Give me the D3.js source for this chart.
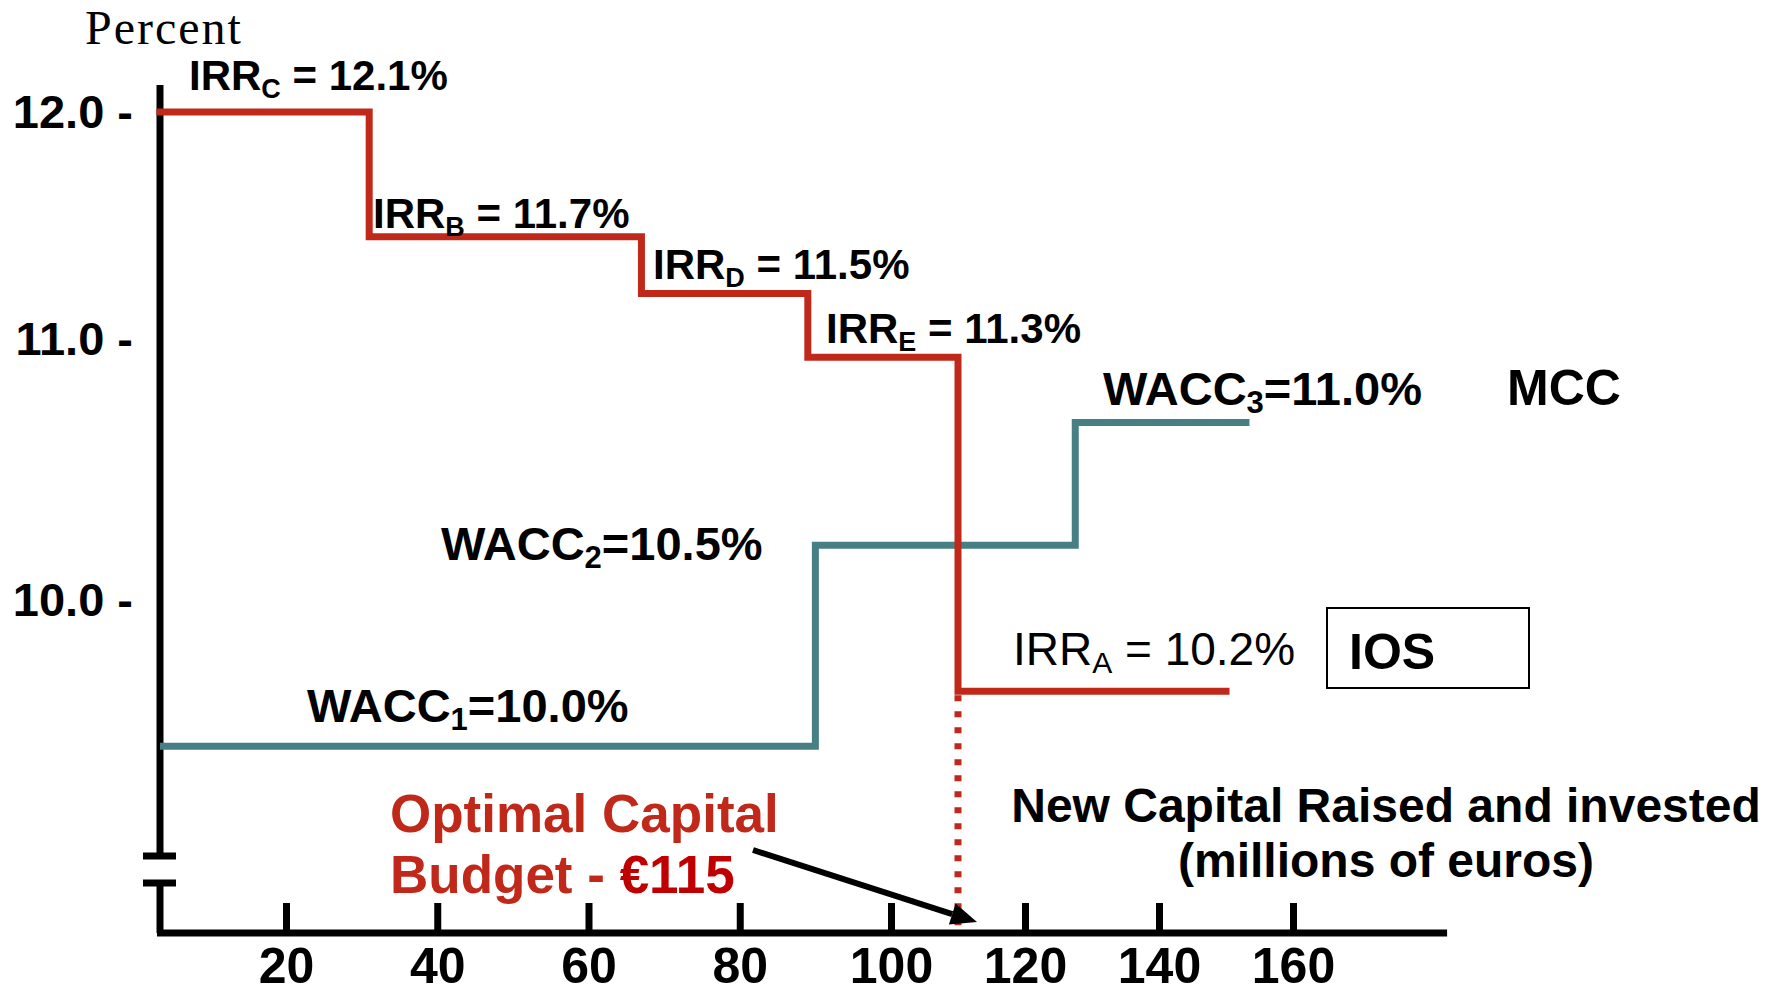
<!DOCTYPE html>
<html>
<head>
<meta charset="utf-8">
<script src="https://cdn.jsdelivr.net/npm/d3@7"></script>
<style>
  body { margin: 0; background: #fff; }
  svg { display: block; font-family: "Liberation Sans", Arial, sans-serif; }
</style>
</head>
<body>
<svg id="chart"></svg>
<script>
// MCC / IOS schema: optimal capital budget

// data
var irrProjects = ["C", "B", "D", "E", "A"];
var irrRates = [12.1, 11.7, 11.5, 11.3, 10.2];          // text in the labels
var irrStepX = [0, 31, 67, 89, 110, 150];               // capital where each step starts (+ end)
var irrStepY = [12.0, 11.45, 11.2, 10.93, 9.65];        // level as drawn

var waccRates = [10.0, 10.5, 11.0];
var waccStepX = [0, 90, 127.5, 153.5];
var waccStepY = [9.44, 10.21, 10.68];

var budget = 110;                                        // where the dotted line is drawn
var budgetText = "€115";

var xTicks = [20, 40, 60, 80, 100, 120, 140, 160];
var yTicks = [10, 11, 12];
var xAxisEnd = 183;

var W = 1773, H = 994;
var RED = "#c0291a", TEAL = "#467f84";

var svg = d3.select("#chart").attr("width", W).attr("height", H);

// the picture is not to scale, so the scales are piecewise
var x = d3.scaleLinear().domain([0, 20, 100, 160]).range([160, 286, 891, 1293]);
var y = d3.scaleLinear().domain([10, 11, 12]).range([600, 339, 112]);

// helper for labels with subscripts: parts = [main, sub, rest]
function richLabel(parts, px, py, size, opts) {
  opts = opts || {};
  var t = svg.append("text")
    .attr("x", px).attr("y", py)
    .attr("font-size", size)
    .attr("font-weight", opts.weight || "bold")
    .attr("fill", opts.fill || "#000");
  var shift = Math.round(size * 0.18);
  t.append("tspan").text(parts[0]);
  t.append("tspan").attr("font-size", Math.round(size * 0.65)).attr("dy", shift).text(parts[1]);
  t.append("tspan").attr("dy", -shift).text(parts[2]);
  return t;
}

// y axis with a break near the bottom
var axisY0 = x(0), xAxisY = 933;
svg.append("path")
  .attr("d", "M" + axisY0 + ",85V856M" + axisY0 + ",883V" + xAxisY)
  .attr("stroke", "#000").attr("stroke-width", 7).attr("fill", "none");
svg.selectAll(".brk").data([856, 883]).enter().append("line")
  .attr("x1", 143).attr("x2", 176)
  .attr("y1", function(d) { return d; }).attr("y2", function(d) { return d; })
  .attr("stroke", "#000").attr("stroke-width", 7);

// y tick labels ("12.0 -")
var yAxis = svg.append("g")
  .attr("transform", "translate(" + axisY0 + ",0)")
  .call(d3.axisLeft(y).tickValues(yTicks).tickSize(0).tickPadding(27)
    .tickFormat(function(d) { return d3.format(".1f")(d) + " -"; }));
yAxis.select(".domain").remove();
yAxis.attr("font-family", null).attr("font-size", null);
yAxis.selectAll("text")
  .attr("font-size", 47).attr("font-weight", "bold")
  .attr("fill", "#000").attr("dy", "0.33em");

// x axis
var xAxis = svg.append("g")
  .attr("transform", "translate(0," + xAxisY + ")")
  .call(d3.axisBottom(x).tickValues(xTicks).tickSizeInner(-30).tickSizeOuter(0));
xAxis.select(".domain").remove();
xAxis.attr("font-family", null).attr("font-size", null);
xAxis.selectAll(".tick line").attr("stroke", "#000").attr("stroke-width", 7);
xAxis.selectAll("text")
  .attr("y", 50).attr("dy", null)
  .attr("font-size", 50).attr("font-weight", "bold")
  .attr("fill", "#000");
svg.append("line")
  .attr("x1", x(0) - 3).attr("x2", x(xAxisEnd))
  .attr("y1", xAxisY).attr("y2", xAxisY)
  .attr("stroke", "#000").attr("stroke-width", 7);

// step lines
var step = d3.line()
  .x(function(d) { return x(d[0]); })
  .y(function(d) { return y(d[1]); })
  .curve(d3.curveStepAfter);

var waccPts = waccStepY.map(function(v, i) { return [waccStepX[i], v]; });
waccPts.push([waccStepX[waccStepX.length - 1], waccStepY[waccStepY.length - 1]]);
svg.append("path").attr("d", step(waccPts))
  .attr("fill", "none").attr("stroke", TEAL).attr("stroke-width", 7);

var irrPts = irrStepY.map(function(v, i) { return [irrStepX[i], v]; });
irrPts.push([irrStepX[irrStepX.length - 1], irrStepY[irrStepY.length - 1]]);
svg.append("path").attr("d", step(irrPts))
  .attr("fill", "none").attr("stroke", RED).attr("stroke-width", 7)
  .attr("stroke-linecap", "square");

// dotted drop to the axis
svg.append("line")
  .attr("x1", x(budget)).attr("x2", x(budget))
  .attr("y1", y(irrStepY[irrStepY.length - 1]) + 4).attr("y2", xAxisY)
  .attr("stroke", RED).attr("stroke-width", 7)
  .attr("stroke-dasharray", "6 10");

// IRR labels
var irrLabelPos = [[189, 90], [373, 228], [653, 279], [826, 343], [1013, 665]];
irrProjects.forEach(function(p, i) {
  var last = i === irrProjects.length - 1;
  richLabel(["IRR", p, " = " + irrRates[i].toFixed(1) + "%"],
    irrLabelPos[i][0], irrLabelPos[i][1], last ? 46 : 42,
    { weight: last ? "normal" : "bold" });
});

// WACC labels
var waccLabelPos = [[307, 722], [441, 560], [1103, 405]];
waccRates.forEach(function(r, i) {
  richLabel(["WACC", String(i + 1), "=" + r.toFixed(1) + "%"],
    waccLabelPos[i][0], waccLabelPos[i][1], 47);
});

svg.append("text").attr("x", 1507).attr("y", 405)
  .attr("font-size", 50).attr("font-weight", "bold").text("MCC");

svg.append("rect").attr("x", 1327).attr("y", 608).attr("width", 202).attr("height", 80)
  .attr("fill", "none").attr("stroke", "#000").attr("stroke-width", 2);
svg.append("text").attr("x", 1349).attr("y", 669)
  .attr("font-size", 50).attr("font-weight", "bold").text("IOS");

// "Percent" title
svg.append("text").attr("x", 85).attr("y", 44)
  .attr("font-family", "Liberation Serif, Times New Roman, serif")
  .attr("font-size", 48).attr("letter-spacing", 2).text("Percent");

// x axis title
svg.append("text").attr("x", 1386).attr("y", 822).attr("text-anchor", "middle")
  .attr("font-size", 48).attr("font-weight", "bold").text("New Capital Raised and invested");
svg.append("text").attr("x", 1386).attr("y", 877).attr("text-anchor", "middle")
  .attr("font-size", 48).attr("font-weight", "bold").text("(millions of euros)");

// optimal budget annotation
svg.append("text").attr("x", 390).attr("y", 832)
  .attr("font-size", 53).attr("font-weight", "bold").attr("fill", RED)
  .text("Optimal Capital");
var bt = svg.append("text").attr("x", 390).attr("y", 893)
  .attr("font-size", 53).attr("font-weight", "bold").attr("fill", RED);
bt.append("tspan").text("Budget - ");
bt.append("tspan").attr("fill", "#c00000").text(budgetText);

// arrow to the budget point
var ax0 = 753, ay0 = 850, ax1 = x(budget) + 19, ay1 = xAxisY - 11;
var ang = Math.atan2(ay1 - ay0, ax1 - ax0);
var hl = 26, hw = 11;
var bx = ax1 - hl * Math.cos(ang), by = ay1 - hl * Math.sin(ang);
svg.append("line").attr("x1", ax0).attr("y1", ay0).attr("x2", bx).attr("y2", by)
  .attr("stroke", "#000").attr("stroke-width", 6);
svg.append("path")
  .attr("d", "M" + ax1 + "," + ay1 +
    "L" + (bx + hw * Math.sin(ang)) + "," + (by - hw * Math.cos(ang)) +
    "L" + (bx - hw * Math.sin(ang)) + "," + (by + hw * Math.cos(ang)) + "Z")
  .attr("fill", "#000");
</script>
</body>
</html>
